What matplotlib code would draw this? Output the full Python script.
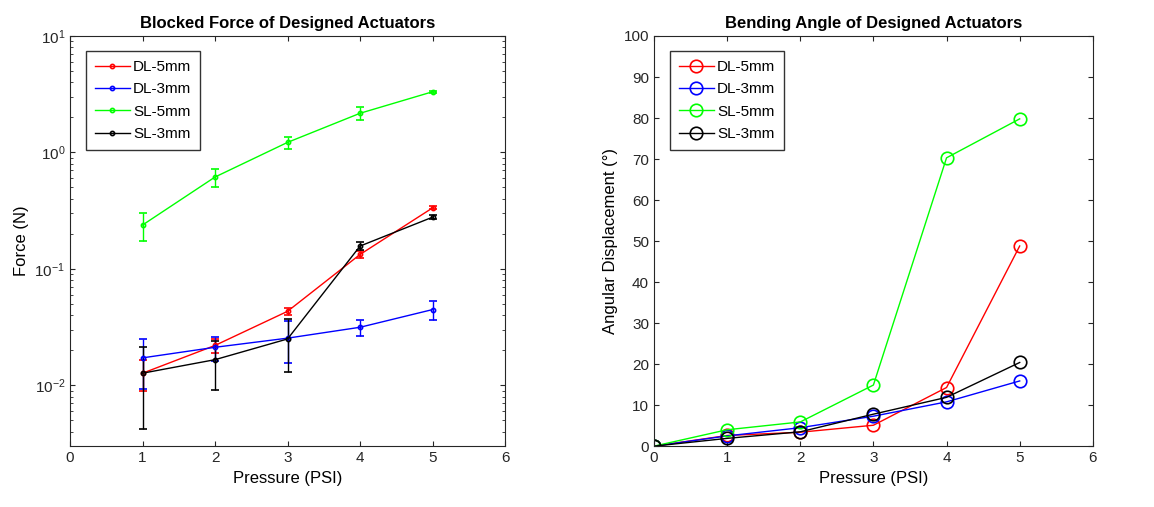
import matplotlib.pyplot as plt

plt.rcParams['font.family'] = ['Liberation Sans', 'DejaVu Sans']

pressure = [1, 2, 3, 4, 5]
names = ['DL-5mm', 'DL-3mm', 'SL-5mm', 'SL-3mm']
colors = ['#ff0000', '#0000ff', '#00ff00', '#000000']

# blocked force (N) and error
force_dl5 = [0.0127, 0.022, 0.0432, 0.133, 0.334]
err_dl5 = [0.0037, 0.003, 0.003, 0.008, 0.01]
force_dl3 = [0.0172, 0.0212, 0.0254, 0.0315, 0.0447]
err_dl3 = [0.008, 0.005, 0.010, 0.005, 0.008]
force_sl5 = [0.238, 0.615, 1.22, 2.17, 3.32]
err_sl5 = [0.065, 0.11, 0.15, 0.27, 0.05]
force_sl3 = [0.0127, 0.0166, 0.025, 0.157, 0.278]
err_sl3 = [0.0085, 0.0075, 0.012, 0.012, 0.01]

# bending angle (deg)
angle_p = [0, 1, 2, 3, 4, 5]
angle_dl5 = [0, 2.6, 3.4, 5.1, 14.3, 48.8]
angle_dl3 = [0, 2.5, 4.5, 7.3, 10.8, 15.9]
angle_sl5 = [0, 4.0, 5.9, 14.9, 70.3, 79.8]
angle_sl3 = [0, 1.9, 3.5, 7.8, 11.9, 20.4]

fig = plt.figure(figsize=(11.54, 5.07), dpi=100)
ax1 = fig.add_axes([0.0607, 0.120, 0.377, 0.809])
ax2 = fig.add_axes([0.5667, 0.120, 0.3803, 0.809])

forces = [force_dl5, force_dl3, force_sl5, force_sl3]
errs = [err_dl5, err_dl3, err_sl5, err_sl3]
handles = []
for f, e, c, n in zip(forces, errs, colors, names):
    cont = ax1.errorbar(pressure, f, yerr=e, color=c, lw=1, marker='o', ms=3,
                        mfc='none', mew=1.2, capsize=3, elinewidth=1, label=n)
    handles.append(cont.lines[0])
ax1.set_yscale('log')
ax1.set_xlim(0, 6)
ax1.set_ylim(0.003, 10)
ax1.set_title('Blocked Force of Designed Actuators', fontweight='bold', fontsize=12)
ax1.set_xlabel('Pressure (PSI)', fontsize=12)
ax1.set_ylabel('Force (N)', fontsize=12)

angles = [angle_dl5, angle_dl3, angle_sl5, angle_sl3]
for a, c, n in zip(angles, colors, names):
    ax2.plot(angle_p, a, color=c, lw=1, marker='o', ms=9, mfc='none',
             mew=1.2, label=n)
ax2.set_xlim(0, 6)
ax2.set_ylim(0, 100)
ax2.set_yticks(range(0, 101, 10))
ax2.set_title('Bending Angle of Designed Actuators', fontweight='bold', fontsize=12)
ax2.set_xlabel('Pressure (PSI)', fontsize=12)
ax2.set_ylabel('Angular Displacement (°)', fontsize=12)

for ax in (ax1, ax2):
    ax.set_xticks(range(0, 7))
    ax.tick_params(direction='in', which='both', top=True, right=True,
                   labelsize=11, colors='#262626')
    for s in ax.spines.values():
        s.set_color('#262626')

for ax, h in ((ax1, handles), (ax2, None)):
    kw = dict(loc='upper left', bbox_to_anchor=(0.025, 0.975), fontsize=11,
              fancybox=False, edgecolor='black', borderaxespad=0.3,
              handlelength=2.3, handletextpad=0.2, labelspacing=0.55,
              borderpad=0.6)
    if h is not None:
        leg = ax.legend(handles=h, labels=names, **kw)
    else:
        leg = ax.legend(**kw)
    leg.get_frame().set_linewidth(1)

fig.savefig('out.png', dpi=100)
